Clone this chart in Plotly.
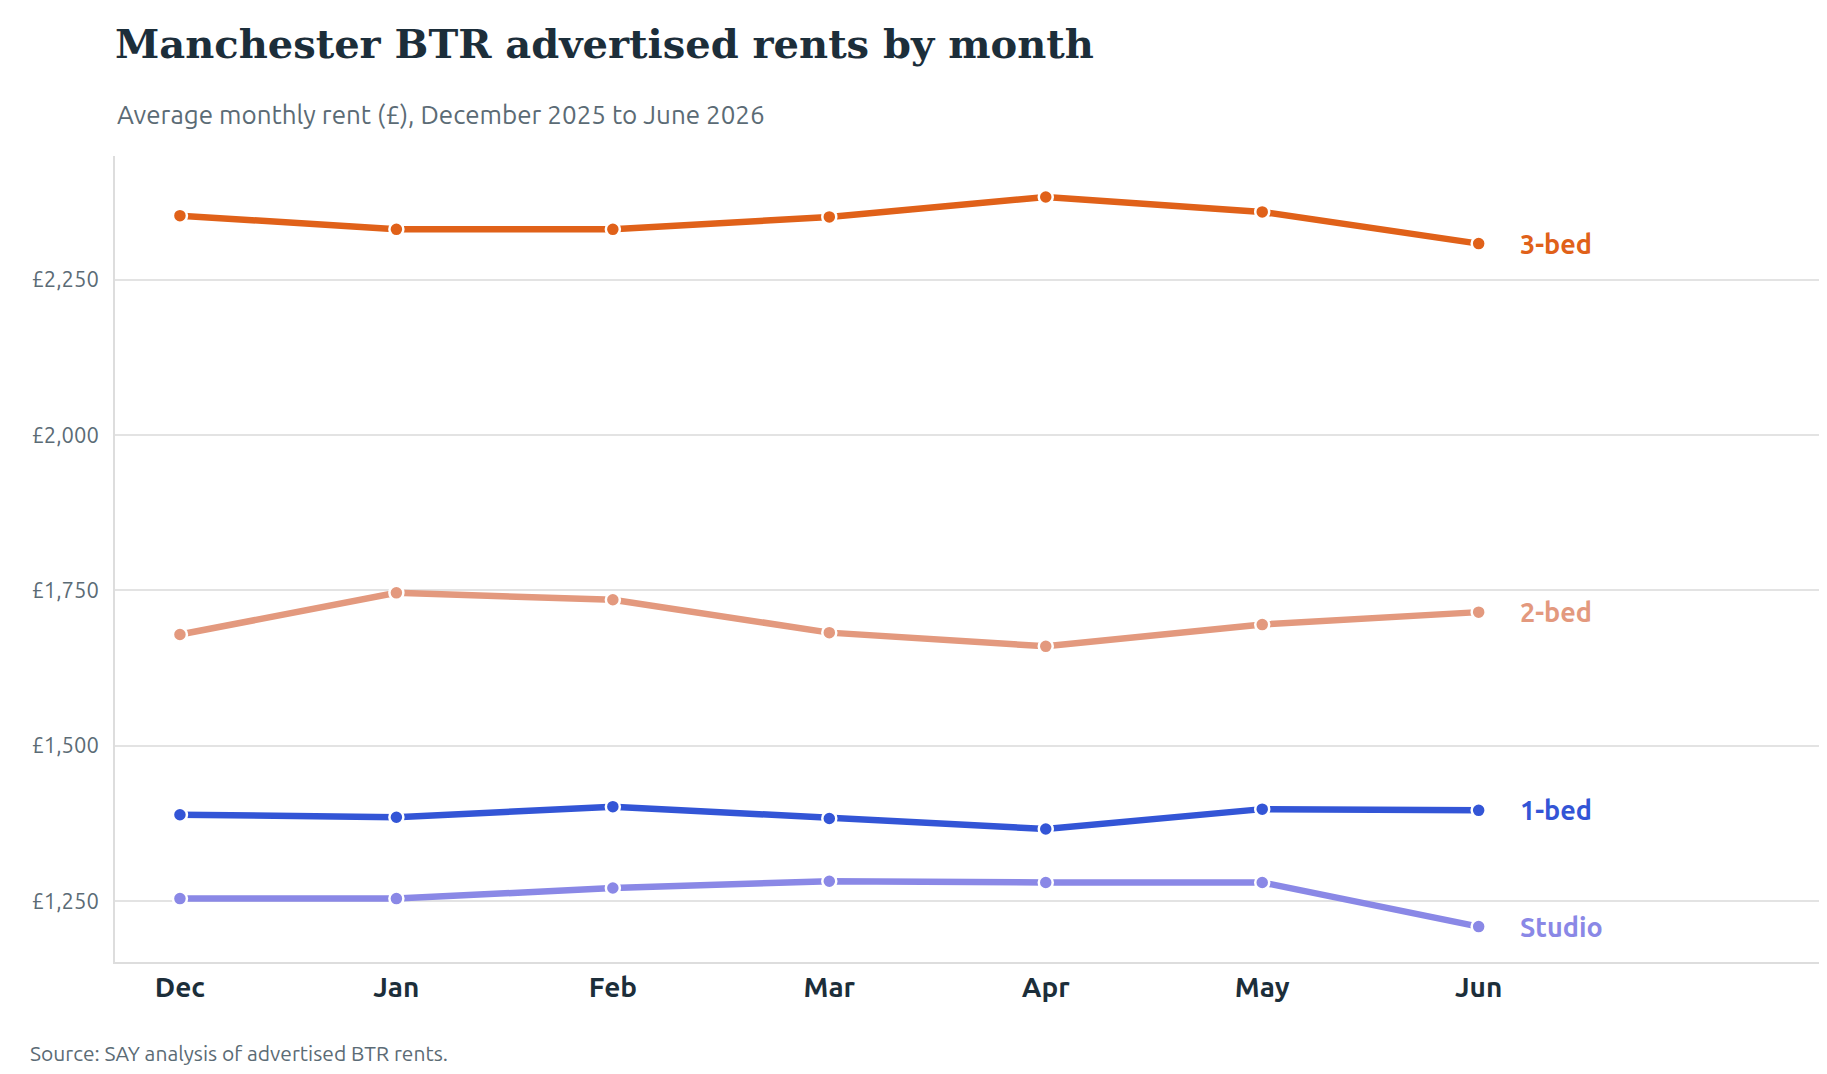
import plotly.graph_objects as go

months = ["Dec", "Jan", "Feb", "Mar", "Apr", "May", "Jun"]
series_names = ["3-bed", "2-bed", "1-bed", "Studio"]
rent_3bed = [2353, 2331, 2331, 2351, 2383, 2359, 2308]
rent_2bed = [1679, 1746, 1735, 1682, 1660, 1695, 1715]
rent_1bed = [1389, 1385, 1402, 1383, 1366, 1398, 1396]
rent_studio = [1254, 1254, 1271, 1282, 1280, 1280, 1209]
colors = ["#E06119", "#E3997E", "#3355D6", "#8A88E6"]
tick_vals = [1250, 1500, 1750, 2000, 2250]
tick_text = ["£1,250", "£1,500", "£1,750", "£2,000", "£2,250"]

L, T, B = 107, 148, 120
H = 1074
ph = H - T - B

fig = go.Figure()
xs = list(range(len(months)))
for name, vals, c in zip(series_names, [rent_3bed, rent_2bed, rent_1bed, rent_studio], colors):
    fig.add_trace(go.Scatter(x=xs, y=vals, mode="lines+markers", name=name,
                             line=dict(color=c, width=6.5),
                             marker=dict(size=14, color=c, line=dict(color="white", width=2.5)),
                             hovertemplate="%{y}<extra>" + name + "</extra>"))
    fig.add_annotation(x=xs[-1] + 0.18, y=vals[-1], text="<b>" + name + "</b>", showarrow=False,
                       xanchor="left", yanchor="middle", font=dict(color=c, size=27, family="Ubuntu, Noto Sans"))

fig.update_layout(
    width=1827, height=1074, plot_bgcolor="white", paper_bgcolor="white",
    showlegend=False,
    margin=dict(l=L, r=10, t=T, b=B),
    font=dict(family="Ubuntu, Noto Sans", color="#1c2e3a"),
    title=dict(text="<b>Manchester BTR advertised rents by month</b>", x=L/1827, xanchor="left",
               y=1-36/H, yanchor="middle",
               font=dict(family="DejaVu Serif", size=40, color="#1c2e3a")),
)
fig.add_annotation(text="Average monthly rent (£), December 2025 to June 2026", xref="paper", yref="paper",
                   x=0, y=1 + (T-107)/ph, xanchor="left", yanchor="middle", showarrow=False,
                   font=dict(size=26, color="#5b6b75"))
fig.add_annotation(text="Source: SAY analysis of advertised BTR rents.", xref="paper", yref="paper",
                   x=-(L-20)/(1827-L-10), y=-(1045-(H-B))/ph, xanchor="left", yanchor="middle", showarrow=False,
                   font=dict(size=21, color="#5b6b75"))
fig.update_xaxes(range=[-0.30, 7.6], tickvals=xs, ticktext=["<b>%s</b>" % m for m in months],
                 tickfont=dict(size=28, color="#1c2e3a"), showgrid=False, zeroline=False,
                 showline=True, linecolor="#dddddd", linewidth=1.5, ticks="")
fig.update_yaxes(range=[1152, 2449], tickvals=tick_vals, ticktext=tick_text,
                 tickfont=dict(size=22, color="#5b6b75"), showgrid=True, gridcolor="#e3e3e3",
                 gridwidth=1.5, zeroline=False, showline=True, linecolor="#dddddd", linewidth=1.5,
                 ticks="", ticklabelstandoff=10)
fig.write_html("out.html")
